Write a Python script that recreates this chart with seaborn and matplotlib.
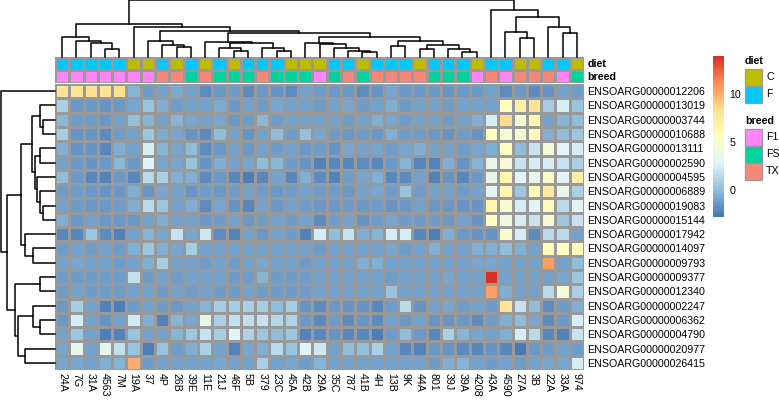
import numpy as np
import pandas as pd
import matplotlib
matplotlib.use('Agg')
import matplotlib.pyplot as plt
from matplotlib.colors import LinearSegmentedColormap, ListedColormap
from matplotlib.patches import Rectangle
import seaborn as sns

plt.rcParams['font.family'] = ['Liberation Sans', 'DejaVu Sans']

# gene rows (top to bottom) and sample columns (left to right)
genes = ['ENSOARG00000012206', 'ENSOARG00000013019', 'ENSOARG00000003744',
         'ENSOARG00000010688', 'ENSOARG00000013111', 'ENSOARG00000002590',
         'ENSOARG00000004595', 'ENSOARG00000006889', 'ENSOARG00000019083',
         'ENSOARG00000015144', 'ENSOARG00000017942', 'ENSOARG00000014097',
         'ENSOARG00000009793', 'ENSOARG00000009377', 'ENSOARG00000012340',
         'ENSOARG00000002247', 'ENSOARG00000006362', 'ENSOARG00000004790',
         'ENSOARG00000020977', 'ENSOARG00000026415']
samples = ['24A', '7G', '31A', '4563', '7M', '19A', '37', '4P', '26B', '39E',
           '11E', '21J', '46F', '5B', '379', '23C', '45A', '42B', '29A', '35C',
           '787', '41B', '4H', '13B', '9K', '44A', '801', '39J', '39A', '4208',
           '43A', '4590', '27A', '3B', '22A', '33A', '974']
diet = ['F', 'F', 'F', 'F', 'F', 'C', 'C', 'F', 'C', 'F', 'C', 'F', 'C', 'F',
        'F', 'F', 'C', 'C', 'C', 'F', 'F', 'C', 'F', 'F', 'F', 'C', 'F', 'F',
        'F', 'C', 'F', 'F', 'C', 'C', 'F', 'F', 'C']
breed = ['F1', 'F1', 'F1', 'F1', 'F1', 'F1', 'F1', 'TX', 'TX', 'FS', 'TX', 'FS',
         'FS', 'FS', 'TX', 'FS', 'FS', 'FS', 'F1', 'FS', 'TX', 'FS', 'TX', 'TX',
         'TX', 'TX', 'FS', 'FS', 'FS', 'F1', 'TX', 'F1', 'TX', 'TX', 'TX', 'F1', 'FS']

# scaled expression, one list per gene
g12206 = [8.0, 8.0, 8.2, 8.0, 8.3, -0.3, -1.2, -1.0, -0.7, -1.0, -1.8, -1.3, -1.2, -1.8, -1.3, -1.5, -1.8,
          -1.0, -1.2, -1.4, -1.3, -1.8, -1.5, -0.8, -1.3, -1.3, -1.3, -1.5, -1.4, -1.3,
          -1.0, -1.8, -1.4, -1.8, -1.5, -1.0, -1.2]
g13019 = [1.0, -1.3, -1.3, -1.5, -1.3, -0.8, 0.3, -0.5, -1.2, -1.0, -1.0, -0.7, -1.3, -1.0, -1.2, -0.8, -1.0,
          -1.0, -1.2, -1.1, -0.8, -1.2, -1.0, -0.5, -1.2, -1.0, -1.1, -1.2, -1.0, -1.1,
          -1.0, 5.5, 7.0, 8.0, 0.8, 2.5, 0.3]
g03744 = [-0.2, -1.2, -1.2, -1.3, -1.0, 0.2, -0.3, -1.0, -0.3, -0.8, -1.0, -0.8, -1.3, -1.2, -0.2, -1.2, -1.0,
          -1.0, -1.1, -1.0, -1.2, -1.1, -0.6, -0.9, -1.2, -1.0, -1.1, -1.2, -1.0, -0.5,
          2.5, 8.5, 4.5, 6.5, -1.0, -0.3, 0.0]
g10688 = [0.8, -1.5, -1.5, -1.8, -1.2, -1.0, 0.5, -0.7, -0.8, -1.6, -1.8, 0.0, -1.0, -1.6, -1.0, 0.0, -1.2,
          0.2, -0.8, -1.2, -1.4, -1.2, -1.4, -0.5, -1.2, -1.2, -1.3, -1.6, -1.2, -1.6,
          5.5, 4.5, 4.5, 6.0, -0.5, 0.0, 0.5]
g13111 = [-0.5, -1.6, -1.5, -2.0, -0.5, -1.0, 2.5, -0.3, -0.8, 0.0, -1.8, -1.3, -1.0, -1.3, -1.0, -1.2, -1.0,
          -1.4, -1.2, -1.6, -0.9, -1.0, -0.8, -1.2, -0.8, -0.5, -1.0, -1.0, -1.2, -0.8,
          -0.5, 5.5, 0.0, 2.0, 4.5, 3.0, 2.5]
g02590 = [-1.0, -1.4, -1.5, -1.4, -0.2, -1.3, 2.8, -0.8, -0.8, 0.3, -1.6, -0.5, -1.0, -0.8, 0.0, -0.2, -1.2,
          -1.6, -2.2, -2.0, -2.0, -1.8, -2.0, -1.4, -0.3, -2.0, -2.2, -0.5, -1.5, -0.3,
          3.5, 4.5, 2.0, 2.5, 2.5, 2.0, 1.0]
g04595 = [0.0, -1.4, -2.0, -2.2, -1.3, -2.0, 1.5, 1.0, -0.5, -0.5, -1.8, -1.4, -2.0, -2.3, -2.0, -1.0, -2.0,
          -0.6, -1.8, -2.2, -1.2, -0.8, -0.6, -2.0, -1.8, -1.0, -2.2, -1.5, -2.0, -1.4,
          3.5, 6.5, 3.0, 3.5, 5.0, 3.0, 7.0]
g06889 = [-1.2, -1.2, -1.3, -1.5, -1.3, -0.5, -1.5, -0.8, -1.0, -1.5, -1.2, -1.4, -1.2, -1.0, -1.2, -1.4, -1.2,
          -1.0, -1.2, -1.2, -1.3, -1.1, -0.8, -1.2, 0.3, -1.2, -1.0, -1.0, -1.2, -1.0,
          3.0, 6.5, 0.5, 6.0, 7.5, 3.5, 1.0]
g19083 = [-1.0, -1.2, -1.3, -1.3, -1.2, -0.5, 1.5, 0.5, -1.0, -0.5, -1.8, -0.8, -1.6, -2.0, -1.0, -1.4, -1.0,
          -1.2, -1.4, -1.4, -1.2, -1.4, -1.2, -1.6, -1.3, -1.0, -1.3, -1.3, -1.5, -1.6,
          6.5, 5.0, 2.5, 3.0, 6.0, 1.5, 3.0]
g15144 = [-0.5, -1.3, -1.0, -1.3, -1.3, -1.4, -1.0, -0.5, -1.0, -1.0, -1.4, -1.2, -1.0, -1.3, -1.2, -1.0, -1.2,
          -1.0, -1.8, -1.2, -1.0, -1.6, -1.2, -0.8, -1.2, -1.2, -1.2, -1.3, -1.0, -1.5,
          5.5, 4.0, 2.5, 2.0, 4.5, 0.5, 2.0]
g17942 = [-2.0, -2.0, 0.5, -1.8, -2.2, -1.0, -0.3, -0.8, 2.0, -0.8, 2.2, -1.8, -2.2, -1.0, -1.3, -1.0, -1.2,
          -2.2, 2.5, 0.0, 2.0, -0.5, -0.3, 2.5, 2.5, -2.0, -2.3, -0.5, -1.3, -1.6,
          -1.5, 5.0, 2.5, -1.8, 1.5, 1.5, -1.0]
g14097 = [-1.2, -1.0, -1.2, -1.0, -1.2, -0.5, 0.5, -0.5, -0.8, 0.8, -1.0, -1.0, -1.0, -1.0, -1.0, -1.0, -1.0,
          -1.0, -1.2, -1.0, -1.0, -1.0, -1.0, -0.8, -1.2, -1.0, -0.5, -1.0, -1.0, -0.5,
          -0.5, 0.0, -0.5, -1.0, 6.0, 5.5, 6.0]
g09793 = [-1.0, -0.8, -1.0, -1.0, -1.2, -1.0, -0.5, 0.8, -1.0, -1.0, -1.2, -1.0, -1.2, -1.0, -0.8, -1.0, -1.0,
          -1.2, -1.0, -1.1, -1.0, -0.5, -0.5, -1.0, -1.1, -1.0, -1.0, -1.1, -1.0, -0.8,
          -0.8, -1.0, -1.0, -1.0, 10.5, -1.0, 0.0]
g09377 = [-1.2, -1.2, -1.2, -1.2, -1.2, 1.8, -1.2, -1.0, -1.2, -1.0, -1.0, -1.0, -1.2, -1.2, -0.3, -1.2, -1.2,
          -1.2, -1.1, -1.0, -1.1, -1.0, -1.1, -1.2, -1.0, -1.1, -1.0, -0.8, -1.0, -1.1,
          13.9, -1.0, -1.0, -1.0, -1.0, -0.8, 0.5]
g12340 = [-1.2, -1.0, -1.2, -1.2, -1.2, -1.0, -1.1, -1.2, -1.0, -1.2, -1.0, -1.2, -1.2, -1.0, -1.2, -1.2, -1.2,
          -1.2, -1.1, -1.0, -1.1, -1.0, -1.1, 0.3, -1.0, -1.1, -1.0, -1.0, -1.1, -1.0,
          10.5, -0.5, -1.0, -1.0, 1.5, 4.5, 1.0]
g02247 = [-1.4, 0.8, -1.0, -2.2, -2.3, -1.2, -1.0, -1.2, -1.4, -1.0, -0.3, 0.8, 0.8, 1.0, 0.8, 0.0, 0.8,
          -1.5, -1.8, -1.3, -1.5, -1.6, -2.0, -1.2, 1.5, -1.6, -1.0, -0.8, -1.2, -1.0,
          -1.2, 8.0, 2.0, 0.0, -1.8, -1.2, -0.5]
g06362 = [-1.3, 2.5, -1.0, -1.6, -1.0, 2.3, -0.5, -2.2, -0.3, -0.8, 3.5, 1.0, 1.8, 1.8, 2.0, 1.3, 1.2,
          -1.4, -1.8, -1.2, -1.8, -1.6, -1.8, -1.0, -1.3, -1.0, -1.6, -1.5, -1.3, -1.8,
          -1.2, -0.5, 0.0, -0.8, -1.8, -1.4, 2.5]
g04790 = [-1.0, 0.5, -1.0, -2.3, -2.2, 0.3, -1.0, -1.0, -0.3, 0.5, 2.0, 0.8, 3.0, 1.2, 0.5, 0.0, 0.5,
          -2.2, -2.0, -1.5, -2.0, -2.0, -2.3, -1.2, 0.0, -1.3, -2.0, 1.0, -0.3, -0.8,
          -1.0, -0.5, 2.5, 1.5, -2.0, -2.2, 2.0]
g20977 = [-0.8, 3.5, -1.0, 3.3, 1.8, 0.3, -2.4, 0.3, -1.2, -0.5, 1.0, -1.0, -2.2, -0.8, -0.5, 1.5, 0.3,
          3.0, 2.2, -1.0, 0.0, 0.2, 1.0, -1.0, -2.0, -2.2, -1.3, -1.5, -1.8, -2.0,
          -1.5, -2.0, -2.5, -1.3, -1.2, -1.0, -1.2]
g26415 = [-0.8, -0.8, -1.0, -0.5, -0.3, 10.0, -1.2, -1.0, -1.0, -1.0, -1.0, -0.8, -1.0, -1.0, 1.0, -1.0, -0.8,
          -1.2, -0.3, -1.0, -1.0, -1.0, -1.0, -1.0, -1.0, -1.0, -1.2, -0.5, -0.3, -1.0,
          -1.2, -1.0, -1.2, -1.0, -0.8, -0.8, 2.5]

rows = [g12206, g13019, g03744, g10688, g13111, g02590, g04595, g06889, g19083,
        g15144, g17942, g14097, g09793, g09377, g12340, g02247, g06362, g04790,
        g20977, g26415]
expr = pd.DataFrame(rows, index=genes, columns=samples)

# dendrograms: [left, right, merge height]
col_tree = [[[0, [1, [2, [3, 4, 7.7], 14.0], 16.0], 20.0],
             [5, [[6, [7, [8, 9, 10.0], 11.7], 16.0],
                  [[10, [[11, [12, 13, 5.7], 9.0], [14, [15, 16, 6.0], 9.0], 13.4], 15.0],
                   [[17, [18, [19, [20, [21, 22, 5.0], 5.7], 9.0], 12.7], 13.4],
                    [[23, 24, 11.0], [[25, 26, 7.4], [27, [28, 29, 5.0], 8.0], 11.7], 16.0],
                    20.0],
                   23.4],
                  25.7],
              30.0],
             32.4],
            [30, [[31, [32, 33, 18.4], 24.4], [34, [35, 36, 23.4], 30.0], 40.0], 46.7],
            56.2]
row_tree = [0, [[[[1, [2, 3, 11.7], 15.0],
                  [[4, 5, 15.0], [6, [7, [8, 9, 11.7], 15.0], 18.3], 20.0], 23.3],
                 [10, [11, 12, 21.7], 30.0], 34.3],
                [[13, 14, 15.0], [[15, [16, 17, 15.0], 21.7], [18, 19, 30.0], 36.7], 40.0],
                48.3],
            54.3]

diet_colors = {'C': '#BEBC00', 'F': '#00C8FF'}
breed_colors = {'F1': '#FF86F8', 'FS': '#00D49C', 'TX': '#F8877A'}
heat_colors = ['#4575B4', '#91BFDB', '#E0F3F8', '#FFFFBF', '#FEE090', '#FC8D59', '#D73027']
vmin, vmax = -2.8, 14.0
fs = 7.7

W, H = 779, 400
fig = plt.figure(figsize=(W / 100, H / 100), dpi=100)


def px_axes(x0, y0, x1, y1):
    return fig.add_axes([x0 / W, 1 - y1 / H, (x1 - x0) / W, (y1 - y0) / H])


def draw_tree(ax, node, vertical):
    if isinstance(node, int):
        return node + 0.5, 0.0
    left, right, h = node
    a, ha = draw_tree(ax, left, vertical)
    b, hb = draw_tree(ax, right, vertical)
    pos, hts = [a, a, b, b], [ha, h, h, hb]
    if vertical:
        ax.plot(pos, hts, color='black', lw=1.1, clip_on=False)
    else:
        ax.plot(hts, pos, color='black', lw=1.1, clip_on=False)
    return (a + b) / 2, h


# main heatmap
ax_hm = px_axes(55, 84, 584, 370)
ax_cb = px_axes(713, 56, 724, 217)
cmap = LinearSegmentedColormap.from_list('pheat', heat_colors, N=100)
sns.heatmap(expr, ax=ax_hm, cmap=cmap, vmin=vmin, vmax=vmax,
            linewidths=0.9, linecolor='#999999', cbar_ax=ax_cb,
            xticklabels=True, yticklabels=True)
ax_hm.yaxis.tick_right()
ax_hm.set_yticks(np.arange(len(genes)) + 0.5)
ax_hm.set_yticklabels(genes, rotation=0, fontsize=fs)
ax_hm.set_xticklabels(samples, rotation=-90, fontsize=fs, va='top', ha='center')
ax_hm.tick_params(length=0, pad=2.5)
ax_hm.set_xlabel('')
ax_hm.set_ylabel('')

cbar = ax_hm.collections[0].colorbar
cbar.outline.set_visible(False)
cbar.set_ticks([0, 5, 10])
ax_cb.tick_params(length=0, labelsize=fs, pad=4)

# annotation bars
levels = list(diet_colors) + list(breed_colors)
annot = pd.DataFrame([[levels.index(d) for d in diet],
                      [levels.index(b) for b in breed]],
                     index=['diet', 'breed'], columns=samples)
ax_an = px_axes(55, 56.5, 584, 82.5)
sns.heatmap(annot, ax=ax_an,
            cmap=ListedColormap(list(diet_colors.values()) + list(breed_colors.values())),
            vmin=-0.5, vmax=len(levels) - 0.5, cbar=False,
            linewidths=0.9, linecolor='#999999', xticklabels=False, yticklabels=True)
ax_an.yaxis.tick_right()
ax_an.set_yticklabels(['diet', 'breed'], rotation=0, fontsize=fs, fontweight='bold')
ax_an.tick_params(length=0, pad=2.5)
ax_an.set_xlabel('')
ax_an.set_ylabel('')

# dendrograms
ax_cd = px_axes(55, 0, 584, 56.5)
draw_tree(ax_cd, col_tree, True)
ax_cd.set_xlim(0, len(samples))
ax_cd.set_ylim(0, 56.7)
ax_cd.axis('off')

ax_rd = px_axes(0, 84, 55, 370)
draw_tree(ax_rd, row_tree, False)
ax_rd.set_xlim(55, 0)
ax_rd.set_ylim(len(genes), 0)
ax_rd.axis('off')

# annotation legend
ax_lg = px_axes(736, 50, 779, 190)
ax_lg.set_xlim(736, 779)
ax_lg.set_ylim(190, 50)
ax_lg.axis('off')


def legend_block(title, colors, top):
    ax_lg.text(745, top, title, fontweight='bold', fontsize=fs, va='center', ha='left')
    for i, (lab, c) in enumerate(colors.items()):
        y = top + 7.5 + 17 * i
        ax_lg.add_patch(Rectangle((745, y), 17, 17, facecolor=c,
                                  edgecolor='#999999', lw=0.9))
        ax_lg.text(766, y + 8.5, lab, fontsize=fs, va='center', ha='left')


legend_block('diet', diet_colors, 61)
legend_block('breed', breed_colors, 121)

fig.savefig('out.png', dpi=100)
